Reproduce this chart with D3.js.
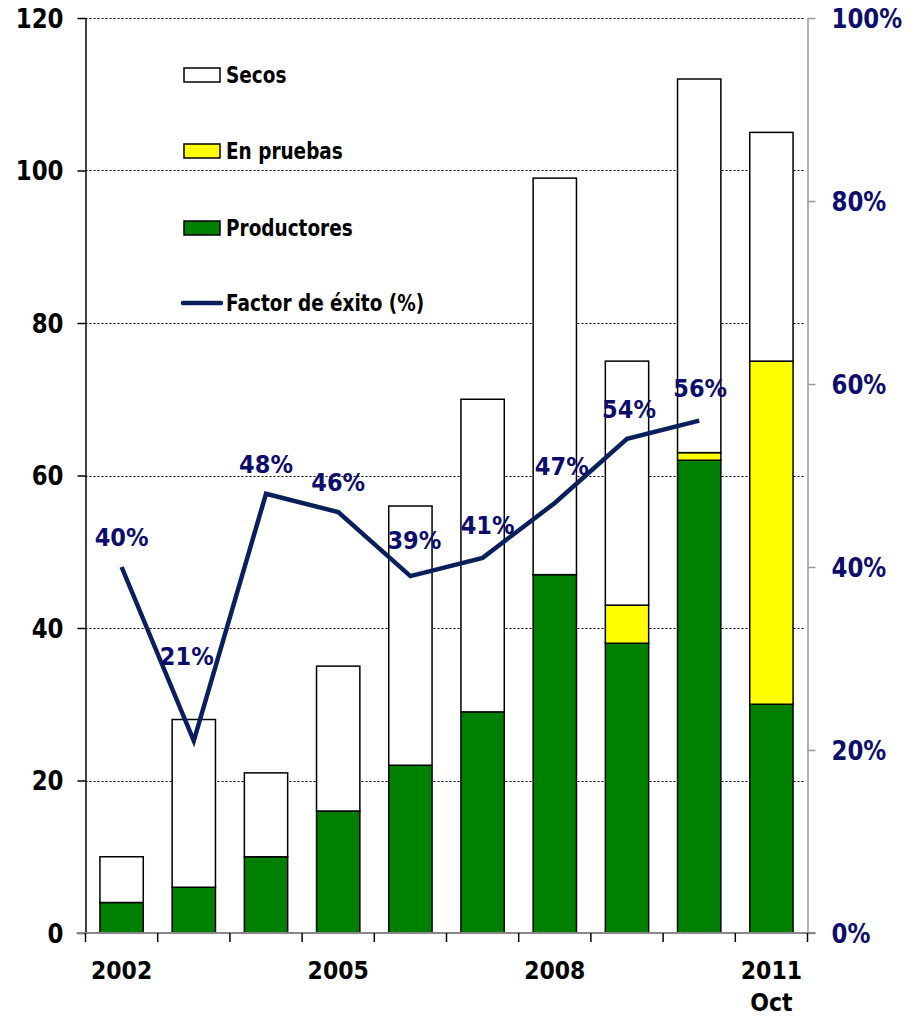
<!DOCTYPE html>
<html><head><meta charset="utf-8">
<script src="https://cdnjs.cloudflare.com/ajax/libs/d3/7.8.5/d3.min.js"></script>
<style>
html,body{margin:0;padding:0;background:#fff;}
text{font-family:"DejaVu Sans",sans-serif;font-weight:bold;}
</style></head>
<body><svg id="c" width="914" height="1018"></svg>
<script>
const years = ["2002","2003","2004","2005","2006","2007","2008","2009","2010","2011"];
const productores = [4, 6, 10, 16, 22, 29, 47, 38, 62, 30];
const enPruebas = [0, 0, 0, 0, 0, 0, 0, 5, 1, 45];
const secos = [6, 22, 11, 19, 34, 41, 52, 32, 49, 30];
const factorExito = [40, 21, 48, 46, 39, 41, 47, 54, 56, null];
const xTickLabels = {"2002":["2002"],"2005":["2005"],"2008":["2008"],"2011":["2011","Oct"]};
const leftTicks = [0,20,40,60,80,100,120];
const rightTicks = [0,20,40,60,80,100];
const legendItems = ["Secos","En pruebas","Productores","Factor de éxito (%)"];

const svg = d3.select("#c");
const L = 85.5, R = 807.5, T = 18, B = 933;
const x = d3.scaleBand().domain(years).range([L, R]).paddingInner(0.4).paddingOuter(0.2);
const y = d3.scaleLinear().domain([0,120]).range([B, T]);
const y2 = d3.scaleLinear().domain([0,100]).range([B, T]);
const navy = "#0b1f5c", labNavy = "#0d0d6b";
function cond(sel, sx){
  sx = sx || 0.88;
  sel.each(function(){
    const w = this.getComputedTextLength();
    d3.select(this).attr("textLength", (w*sx).toFixed(1)).attr("lengthAdjust","spacingAndGlyphs");
  });
}

// gridlines
svg.append("g").selectAll("line").data(leftTicks.filter(d=>d>0)).join("line")
  .attr("x1", L).attr("x2", R-2).attr("y1", d=>Math.round(y(d))+0.5).attr("y2", d=>Math.round(y(d))+0.5)
  .attr("stroke","#000").attr("stroke-width",1).attr("stroke-dasharray","2,2");

// stacked bars
const stackData = years.map((yr,i)=>({year:yr, productores:productores[i], enPruebas:enPruebas[i], secos:secos[i]}));
const keys = ["productores","enPruebas","secos"];
const colors = {productores:"#008000", enPruebas:"#ffff00", secos:"#ffffff"};
const series = d3.stack().keys(keys)(stackData);
svg.append("g").selectAll("g").data(series).join("g")
  .attr("fill", d=>colors[d.key])
  .selectAll("rect").data(d=>d.filter(e=>e[1]-e[0]>0)).join("rect")
  .attr("x", d=>x(d.data.year)).attr("width", x.bandwidth())
  .attr("y", d=>y(d[1])).attr("height", d=>y(d[0])-y(d[1]))
  .attr("stroke","#000").attr("stroke-width",1.5);

// left axis
const gl = svg.append("g").attr("transform",`translate(${L},0)`)
  .call(d3.axisLeft(y).tickValues(leftTicks).tickSize(8).tickSizeOuter(0));
gl.select(".domain").attr("stroke","#000").attr("stroke-width",1.5);
gl.selectAll(".tick line").attr("stroke","#000").attr("stroke-width",1.5);
gl.selectAll(".tick text").attr("x",-22).attr("font-size",26).attr("fill","#000")
  .attr("font-family",null).attr("dy","0.36em").call(cond, 0.88);

// right axis
const gr = svg.append("g").attr("transform",`translate(${R},0)`)
  .call(d3.axisRight(y2).tickValues(rightTicks).tickSize(8).tickSizeOuter(0).tickFormat(d=>d+"%"));
gr.select(".domain").attr("stroke","#999").attr("stroke-width",1.5);
gr.selectAll(".tick line").attr("stroke","#999").attr("stroke-width",1.5);
gr.selectAll(".tick text").attr("x",24).attr("font-size",26).attr("fill",labNavy)
  .attr("font-family",null).attr("dy","0.36em").call(cond, 0.88);

// bottom axis
const xb = d3.scaleLinear().domain([0, years.length]).range([L, R]);
const gb = svg.append("g");
gb.append("line").attr("x1",L-9).attr("x2",R+8).attr("y1",B).attr("y2",B).attr("stroke","#888").attr("stroke-width",2);
gb.selectAll("line.t").data(d3.range(years.length+1)).join("line").attr("class","t")
  .attr("x1",d=>xb(d)).attr("x2",d=>xb(d)).attr("y1",B).attr("y2",B+9).attr("stroke","#000").attr("stroke-width",1.5);
years.forEach(yr=>{
  const lab = xTickLabels[yr]; if(!lab) return;
  const cxx = x(yr)+x.bandwidth()/2;
  lab.forEach((s,k)=>{
    gb.append("text").attr("x", cxx).attr("y", 979 + k*32)
      .attr("text-anchor","middle").attr("font-size",25).attr("fill","#000").text(s).call(cond, 0.88);
  });
});

// line
const pts = years.map((yr,i)=>({year:yr, v:factorExito[i]})).filter(d=>d.v!==null);
const cx = d=>x(d.year)+x.bandwidth()/2;
svg.append("path").datum(pts)
  .attr("d", d3.line().x(cx).y(d=>y2(d.v)))
  .attr("fill","none").attr("stroke",navy).attr("stroke-width",4.5).attr("stroke-linejoin","miter");

const labelShift = {"2003":[-7,-76],"2006":[4,-27],"2007":[5,-24],"2008":[7,-28],"2009":[2,-21],"2010":[1,-24]};
svg.append("g").selectAll("text").data(pts).join("text")
  .attr("x", d=>cx(d)+((labelShift[d.year]||[0,0])[0]))
  .attr("y", d=>y2(d.v)+((labelShift[d.year]||[0,-21])[1]))
  .attr("text-anchor","middle").attr("font-size",25).attr("fill",labNavy)
  .text(d=>d.v+"%").call(cond, 0.9);

// legend
const lg = svg.append("g");
const legY = [75, 151, 228, 303];
const legFill = ["#ffffff","#ffff00","#008000"];
legendItems.forEach((s,i)=>{
  if(i<3){
    lg.append("rect").attr("x",184).attr("y",legY[i]-7).attr("width",36).attr("height",14)
      .attr("fill",legFill[i]).attr("stroke","#000").attr("stroke-width",1.5);
  } else {
    lg.append("line").attr("x1",183).attr("x2",221).attr("y1",legY[i]).attr("y2",legY[i])
      .attr("stroke",navy).attr("stroke-width",4.5).attr("stroke-linecap","round");
  }
  lg.append("text").attr("x",226).attr("y",legY[i]).attr("dy","0.36em").attr("font-size",22.5).attr("fill","#000").text(s).call(cond, 0.82);
});
</script></body></html>
